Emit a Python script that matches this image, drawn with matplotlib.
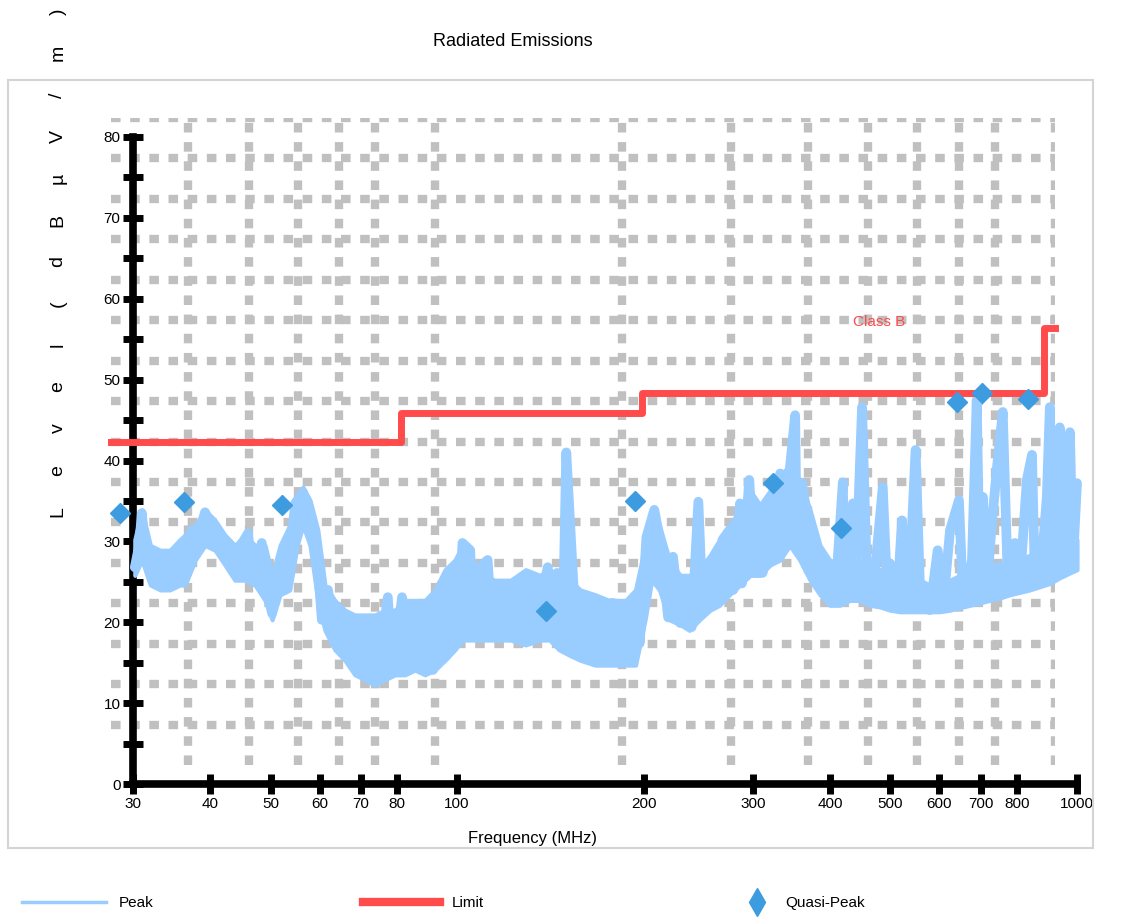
import matplotlib.pyplot as plt
from matplotlib.lines import Line2D
from matplotlib.patches import Rectangle
from matplotlib.ticker import NullLocator

plt.rcParams["font.family"] = ["Liberation Sans", "DejaVu Sans"]

W, H = 1144, 923

# peak sweep (MHz, dBuV/m)
trace_freq = [
    30.2, 30.7, 31.0, 31.4, 31.7, 32.2, 32.9, 33.4, 34.2, 34.7, 35.5, 36.1, 36.4,
    37.3, 38.2, 39.2, 40.2, 41.8, 43.3, 44.3, 46.0, 46.7, 48.4, 49.0, 50.3, 51.4,
    52.2, 52.8, 54.1, 54.8, 56.4, 57.5, 59.4, 60.5, 61.9, 63.5, 65.9, 67.7, 69.2,
    71.0, 73.7, 75.1, 77.3, 78.5, 80.3, 81.5, 83.3, 84.9, 86.5, 88.4, 90.4, 91.4,
    94.5, 95.6, 98.5, 100.3, 102, 105, 106, 109, 112, 114, 117, 122, 128, 134,
    140, 143, 145, 148, 150, 154, 158, 164, 166, 171, 178, 181, 185, 191, 194,
    197, 200, 202, 208, 212, 219, 223, 229, 235, 239, 245, 249, 256, 262, 268,
    275, 279, 286, 288, 296, 300, 310, 311, 320, 323, 332, 341, 344, 351, 353,
    360, 367, 378, 389, 399, 407, 419, 422, 435, 441, 450, 458, 468, 486, 494,
    499, 512, 522, 529, 537, 549, 558, 568, 579, 596, 608, 624, 645, 654, 664,
    677, 689, 697, 705, 715, 729, 743, 759, 773, 794, 809, 830, 846, 855, 881,
    894, 904, 914, 938, 949, 956, 974, 985, 1000,
]
trace_level = [
    26.8, 29.5, 33.5, 28.6, 27.7, 25.2, 28.1, 24.8, 27.7, 24.6, 27.1, 29.8, 25.6,
    31.4, 30.5, 33.6, 31.8, 29.8, 26.5, 28.9, 31.0, 25.6, 29.8, 25.2, 21.1, 26.5,
    27.7, 24.0, 30.5, 34.7, 36.1, 33.0, 28.6, 20.3, 24.0, 17.4, 20.6, 15.0, 20.3,
    14.5, 13.2, 15.9, 23.1, 14.5, 19.0, 23.1, 14.5, 20.3, 21.9, 15.3, 20.9, 14.1,
    24.8, 15.7, 26.8, 17.4, 29.8, 28.9, 19.0, 26.8, 27.7, 18.2, 24.0, 18.7, 25.2,
    18.7, 26.8, 19.9, 26.1, 18.2, 41.0, 24.8, 17.4, 15.7, 22.7, 15.3, 22.4, 16.6,
    21.5, 15.3, 23.1, 17.4, 24.8, 30.5, 33.9, 30.5, 20.6, 28.1, 19.9, 25.2, 19.4,
    34.9, 21.5, 27.3, 22.4, 30.2, 31.4, 24.0, 34.7, 24.8, 37.6, 29.8, 34.2, 26.1,
    35.5, 28.1, 38.4, 31.0, 38.8, 45.6, 30.5, 37.2, 33.0, 27.3, 24.0, 27.3, 22.7,
    37.3, 23.1, 34.7, 28.1, 46.6, 26.1, 23.1, 36.7, 24.0, 27.3, 21.9, 32.6, 22.7,
    25.6, 41.3, 24.4, 21.8, 21.5, 28.9, 21.9, 31.4, 35.1, 24.0, 23.1, 27.7, 47.5,
    25.2, 35.5, 24.0, 32.3, 39.2, 46.0, 25.6, 29.8, 24.8, 37.6, 40.7, 25.6, 29.3,
    35.5, 46.6, 26.5, 44.1, 27.7, 27.3, 43.5, 27.3, 37.2,
]

# min / max envelope of the sweep noise floor
band_freq = [
    30.2, 31.0, 32.0, 33.2, 34.4, 35.7, 36.4, 37.8, 39.2, 40.7, 42.2, 43.8, 45.5,
    47.2, 49.0, 50.3, 51.8, 53.7, 55.2, 56.4, 57.9, 59.6, 61.2, 63.5, 65.9, 68.4,
    71.0, 73.7, 76.5, 79.4, 82.4, 85.5, 88.7, 92.1, 95.6, 99.2, 102, 106, 110,
    115, 122, 129, 136, 141, 146, 152, 158, 167, 176, 187, 194, 201, 206, 212,
    220, 229, 237, 246, 256, 265, 275, 286, 297, 308, 320, 332, 344, 357, 371,
    385, 399, 414, 430, 446, 463, 481, 499, 518, 537, 558, 579, 601, 624, 647,
    672, 697, 723, 751, 779, 809, 839, 871, 904, 938, 974, 1000,
]
band_high = [
    30.2, 33.9, 29.5, 28.9, 28.9, 30.2, 30.8, 32.0, 33.9, 32.6, 30.8, 29.5, 30.8,
    29.5, 29.5, 25.8, 29.5, 32.0, 35.7, 36.7, 35.1, 31.4, 24.6, 22.7, 21.5, 20.9,
    20.9, 20.9, 21.5, 21.5, 22.7, 22.7, 22.7, 24.0, 26.5, 27.7, 29.5, 27.7, 25.8,
    25.2, 25.2, 26.5, 25.8, 26.5, 25.8, 25.2, 24.0, 23.4, 22.7, 22.7, 24.0, 29.5,
    33.9, 32.0, 27.7, 25.8, 25.8, 26.5, 28.3, 30.2, 32.0, 33.9, 36.3, 34.5, 36.3,
    38.2, 39.4, 37.6, 33.9, 29.5, 27.7, 26.5, 30.2, 27.7, 27.1, 26.5, 26.5, 26.5,
    25.8, 25.2, 24.6, 24.6, 25.2, 25.8, 25.8, 26.5, 27.1, 27.3, 27.7, 27.7, 28.3,
    28.6, 28.9, 29.5, 30.2, 30.2,
]
band_low = [
    25.8, 27.7, 24.6, 24.0, 24.0, 24.6, 24.6, 27.7, 29.5, 28.9, 27.1, 25.2, 25.2,
    24.6, 22.7, 20.3, 23.4, 24.0, 29.5, 32.0, 29.5, 22.7, 19.0, 16.6, 15.3, 13.5,
    12.9, 12.2, 12.9, 13.5, 13.5, 14.1, 13.5, 14.1, 15.3, 16.6, 17.8, 17.8, 17.8,
    17.8, 17.8, 17.2, 17.8, 17.8, 16.6, 15.9, 15.3, 14.7, 14.7, 14.7, 14.7, 20.3,
    25.2, 24.0, 20.3, 19.7, 19.0, 20.3, 21.5, 22.1, 23.4, 24.6, 25.8, 25.8, 27.1,
    27.7, 29.5, 27.7, 25.2, 23.4, 22.1, 22.1, 22.7, 22.7, 22.1, 21.9, 21.5, 21.3,
    21.3, 21.3, 21.3, 21.3, 21.5, 21.8, 22.1, 22.4, 22.7, 23.0, 23.4, 23.7, 24.0,
    24.4, 24.8, 25.5, 26.1, 26.5,
]

# FCC Part 15 class B radiated limit
limit_freq = [30, 88, 216, 960, 1000]
limit_level = [40, 43.5, 46, 54, 54]

# quasi-peak measurements
qp_freq = [31.0, 39.3, 56.6, 150.8, 210, 351, 451, 695, 762, 904]
qp_level = [31.2, 32.5, 32.1, 19.1, 32.6, 34.9, 29.3, 44.9, 46.0, 45.3]

x_ticks = [30, 40, 50, 60, 70, 80, 100, 200, 300, 400, 500, 600, 700, 800, 1000]

BLUE_TRACE = "#99ccff"
RED = "#ff4b4b"
BLUE_QP = "#3d9be0"
GRID = "#c0c0c0"


def box(left, top, right, bottom):
    return [left / W, 1 - bottom / H, (right - left) / W, (bottom - top) / H]


fig = plt.figure(figsize=(W / 100, H / 100), dpi=100)

# outer chart frame
fig.patches.append(Rectangle((8 / W, 1 - 848 / H), 1085 / W, 768 / H,
                             transform=fig.transFigure, fill=False,
                             edgecolor="#d4d4d4", lw=1.5))

# grid layer
ax_grid = fig.add_axes(box(111, 118, 1055, 765))
ax_grid.set_xscale("log")
ax_grid.set_xlim(30, 1000)
ax_grid.set_ylim(0, 80)
ax_grid.set_xticks(x_ticks[1:])
ax_grid.xaxis.set_minor_locator(NullLocator())
ax_grid.set_yticks(range(5, 81, 5))
ax_grid.grid(True, color=GRID, lw=6, linestyle=(0, (1.15, 1.15)))
ax_grid.tick_params(length=0, labelbottom=False, labelleft=False)
for s in ax_grid.spines.values():
    s.set_visible(False)
ax_grid.patch.set_visible(False)

# axis frame, sweep, limit and QP points
ax = fig.add_axes(box(133, 137, 1077, 784))
ax.set_autoscale_on(False)
ax.set_xscale("log")
ax.set_xlim(30, 1000)
ax.set_ylim(0, 80)
ax.patch.set_visible(False)

ax.fill_between(band_freq, band_low, band_high, color=BLUE_TRACE, lw=3,
                joinstyle="round", clip_on=False, zorder=3)
ax.plot(trace_freq, trace_level, color=BLUE_TRACE, lw=7,
        solid_joinstyle="round", solid_capstyle="round", clip_on=False, zorder=3)
ax.plot(limit_freq, limit_level, drawstyle="steps-post", color=RED, lw=5,
        solid_joinstyle="round", transform=ax_grid.transData, clip_on=False, zorder=4)
ax.plot(qp_freq, qp_level, "D", ms=10, color=BLUE_QP, ls="none",
        transform=ax_grid.transData, clip_on=False, zorder=5)

ax.set_xticks(x_ticks)
ax.set_xticklabels([str(v) for v in x_ticks])
ax.xaxis.set_minor_locator(NullLocator())
ax.set_yticks(range(0, 81, 10))
ax.set_yticks(range(5, 80, 10), minor=True)
ax.tick_params(which="both", direction="inout", length=14, width=5,
               color="black", labelsize=11, pad=2)
for side in ("top", "right"):
    ax.spines[side].set_visible(False)
for side in ("left", "bottom"):
    ax.spines[side].set_linewidth(5.5)

fig.text(879 / W, 1 - 322 / H, "Class B", color=RED, fontsize=11,
         ha="center", va="center")

# titles
fig.text(513 / W, 1 - 42 / H, "Radiated Emissions", fontsize=13,
         ha="center", va="center")
fig.text(533 / W, 1 - 839 / H, "Frequency (MHz)", fontsize=12,
         ha="center", va="center")

# spaced-out vertical axis title
ylab_chars = ["L", "e", "v", "e", "l", "(", "d", "B", "µ", "V", "/", "m", ")"]
for i, ch in enumerate(ylab_chars):
    fig.text(58 / W, 1 - (512 - 41.7 * i) / H, ch, fontsize=14, rotation=90,
             ha="center", va="center")

# legend row, one entry per series
legend_items = [
    (Line2D([], [], color=BLUE_TRACE, lw=2.5), "Peak", 16, 5.5),
    (Line2D([], [], color=RED, lw=6), "Limit", 357, 5.0),
    (Line2D([], [], color=BLUE_QP, marker="d", ms=14, ls="none"), "Quasi-Peak", 736, 2.0),
]
for handle, label, px, hl in legend_items:
    fig.legend([handle], [label], loc="center left",
               bbox_to_anchor=(px / W, 1 - 903 / H), frameon=False,
               fontsize=11, handlelength=hl, borderaxespad=0)

fig.savefig("out.png", dpi=100)
